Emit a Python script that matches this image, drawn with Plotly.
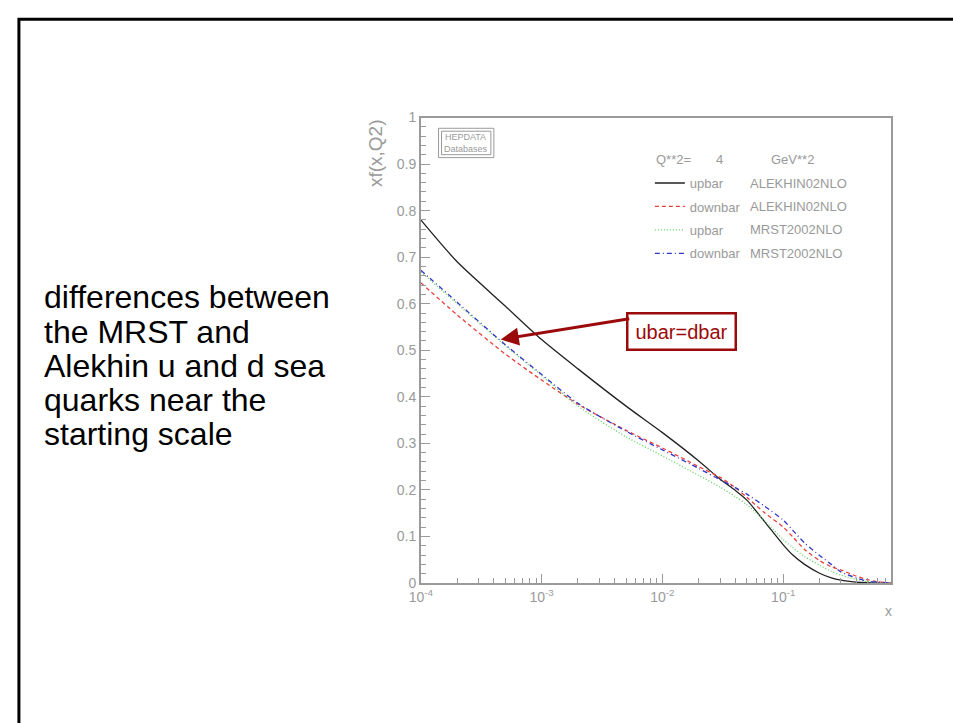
import plotly.graph_objects as go

# ---------------- data ----------------
x_vals = [1e-4, 2e-4, 5e-4, 1e-3, 2e-3, 5e-3, 1e-2, 2e-2, 3e-2, 4e-2, 5e-2, 7e-2,
          0.1, 0.12, 0.15, 0.2, 0.25, 0.3, 0.4, 0.5, 0.6, 0.78]
upbar_alekhin = [0.780, 0.690, 0.595, 0.523, 0.460, 0.380, 0.323, 0.262, 0.223, 0.199,
                 0.178, 0.132, 0.082, 0.060, 0.040, 0.021, 0.011, 0.006, 0.002, 0.0005, 0.0, 0.0]
downbar_alekhin = [0.645, 0.576, 0.492, 0.436, 0.384, 0.328, 0.290, 0.250, 0.227, 0.205,
                   0.184, 0.151, 0.120, 0.099, 0.072, 0.048, 0.035, 0.028, 0.015, 0.007, 0.003, 0.0]
upbar_mrst = [0.668, 0.600, 0.510, 0.446, 0.380, 0.314, 0.273, 0.231, 0.206, 0.186,
              0.168, 0.134, 0.093, 0.076, 0.057, 0.038, 0.025, 0.017, 0.008, 0.003, 0.001, 0.0]
downbar_mrst = [0.672, 0.603, 0.512, 0.448, 0.386, 0.326, 0.286, 0.246, 0.222, 0.205,
                0.191, 0.165, 0.135, 0.113, 0.086, 0.059, 0.040, 0.024, 0.011, 0.004, 0.002, 0.0]

series_names = ["upbar", "downbar", "upbar", "downbar"]
series_sets = ["ALEKHIN02NLO", "ALEKHIN02NLO", "MRST2002NLO", "MRST2002NLO"]
series_values = [upbar_alekhin, downbar_alekhin, upbar_mrst, downbar_mrst]
series_colors = ["#222222", "#e8413c", "#5fd35f", "#3535c8"]
series_dash = ["solid", "4px,3px", "1px,2px", "5px,3px,1px,3px"]

y_ticks = [0, 0.1, 0.2, 0.3, 0.4, 0.5, 0.6, 0.7, 0.8, 0.9, 1]
y_ticktext = ["0", "0.1", "0.2", "0.3", "0.4", "0.5", "0.6", "0.7", "0.8", "0.9", "1"]
x_ticks = [1e-4, 1e-3, 1e-2, 1e-1]
x_ticktext = ["10<sup>-4</sup>", "10<sup>-3</sup>", "10<sup>-2</sup>", "10<sup>-1</sup>"]

side_text = ["differences between", "the MRST and", "Alekhin u and d sea",
             "quarks near the", "starting scale"]

# ---------------- geometry ----------------
W, H = 953, 723
def px(x):
    return x / W
def py(y):
    return 1 - y / H

gray = "#9a9a9a"
tfont = "Liberation Sans, Arial, sans-serif"

fig = go.Figure()
legend_keys = ["legend", "legend2", "legend3", "legend4"]
for i in range(4):
    fig.add_trace(go.Scatter(
        x=x_vals, y=series_values[i], mode="lines",
        name=series_names[i], legend=legend_keys[i],
        line=dict(color=series_colors[i], width=1.3, dash=series_dash[i], shape="spline", smoothing=0.7),
        hoverinfo="skip",
    ))

minor_x = [k * 10 ** e for e in range(-4, 0) for k in range(2, 10)]

fig.update_layout(
    width=W, height=H, autosize=False,
    margin=dict(l=0, r=0, t=0, b=0),
    paper_bgcolor="white", plot_bgcolor="white",
    xaxis=dict(
        type="log", range=[-4, -0.11],
        domain=[px(414), px(890)],
        tickvals=x_ticks, ticktext=x_ticktext,
        ticks="inside", ticklen=9, tickcolor=gray, tickwidth=1,
        minor=dict(tickvals=minor_x, ticks="inside", ticklen=5, tickcolor=gray, showgrid=False),
        showline=True, linecolor=gray, linewidth=1.5, mirror=True,
        showgrid=False, zeroline=False,
        tickfont=dict(family=tfont, size=14, color=gray),
    ),
    yaxis=dict(
        range=[0, 1],
        domain=[py(588), py(112)],
        tickvals=y_ticks, ticktext=y_ticktext,
        ticks="inside", ticklen=9, tickcolor=gray, tickwidth=1,
        minor=dict(dtick=0.02, ticks="inside", ticklen=5, tickcolor=gray, showgrid=False),
        showline=True, linecolor=gray, linewidth=1.5, mirror=True,
        showgrid=False, zeroline=False,
        tickfont=dict(family=tfont, size=14, color=gray),
    ),
    showlegend=True,
)

legend_y = [179, 203, 227, 251]
for i, key in enumerate(legend_keys):
    fig.update_layout(**{key: dict(
        x=px(646), y=py(legend_y[i]), xanchor="left", yanchor="middle",
        bgcolor="rgba(0,0,0,0)", borderwidth=0,
        font=dict(family=tfont, size=13, color=gray),
        itemclick=False, itemdoubleclick=False,
    )})

annotations = []
for i in range(4):
    annotations.append(dict(x=px(745), y=py(legend_y[i]), xref="paper", yref="paper",
                            text=series_sets[i], showarrow=False, xanchor="left", yanchor="middle",
                            font=dict(family=tfont, size=13, color=gray)))
for txt, xx in [("Q**2=", 650), ("4", 711), ("GeV**2", 767)]:
    annotations.append(dict(x=px(xx), y=py(155), xref="paper", yref="paper", text=txt,
                            showarrow=False, xanchor="left", yanchor="middle",
                            font=dict(family=tfont, size=13, color=gray)))
annotations.append(dict(x=px(368), y=py(148), xref="paper", yref="paper", text="xf(x,Q2)",
                        showarrow=False, textangle=-90, xanchor="center", yanchor="middle",
                        font=dict(family=tfont, size=19, color=gray)))
annotations.append(dict(x=px(888), y=py(617), xref="paper", yref="paper", text="x",
                        showarrow=False, xanchor="center", yanchor="middle",
                        font=dict(family=tfont, size=14, color=gray)))
annotations.append(dict(x=px(460), y=py(138), xref="paper", yref="paper",
                        text="HEPDATA<br>Databases", showarrow=False,
                        xanchor="center", yanchor="middle",
                        font=dict(family=tfont, size=9, color=gray)))
side_y = [296, 331, 366, 401, 436]
for t, yy in zip(side_text, side_y):
    annotations.append(dict(x=px(30), y=py(yy), xref="paper", yref="paper", text=t,
                            showarrow=False, xanchor="left", yanchor="middle",
                            font=dict(family=tfont, size=32, color="black")))
annotations.append(dict(x=px(678.5), y=py(330.5), xref="paper", yref="paper", text="ubar=dbar",
                        showarrow=False, width=106, height=34, bgcolor="white",
                        xanchor="center", yanchor="middle",
                        bordercolor="#9b0a0a", borderwidth=2.5, borderpad=0,
                        font=dict(family=tfont, size=20, color="#9b0a0a")))
annotations.append(dict(x=px(495), y=py(339), xref="paper", yref="paper", text="",
                        showarrow=True, ax=130, ay=-21, axref="pixel", ayref="pixel",
                        arrowhead=2, arrowsize=1.2, arrowwidth=3, arrowcolor="#9b0a0a"))
fig.update_layout(annotations=annotations)

shapes = [
    dict(type="rect", xref="paper", yref="paper", x0=px(7), x1=1.1, y0=-0.1, y1=py(11.5),
         line=dict(color="black", width=3), fillcolor="rgba(0,0,0,0)"),
    dict(type="rect", xref="paper", yref="paper", x0=px(432), x1=px(488), y0=py(153), y1=py(123),
         line=dict(color=gray, width=1), fillcolor="rgba(0,0,0,0)"),
    dict(type="rect", xref="paper", yref="paper", x0=px(435), x1=px(485), y0=py(150), y1=py(126),
         line=dict(color=gray, width=1), fillcolor="rgba(0,0,0,0)"),
]
fig.update_layout(shapes=shapes)

fig.write_html("out.html")
